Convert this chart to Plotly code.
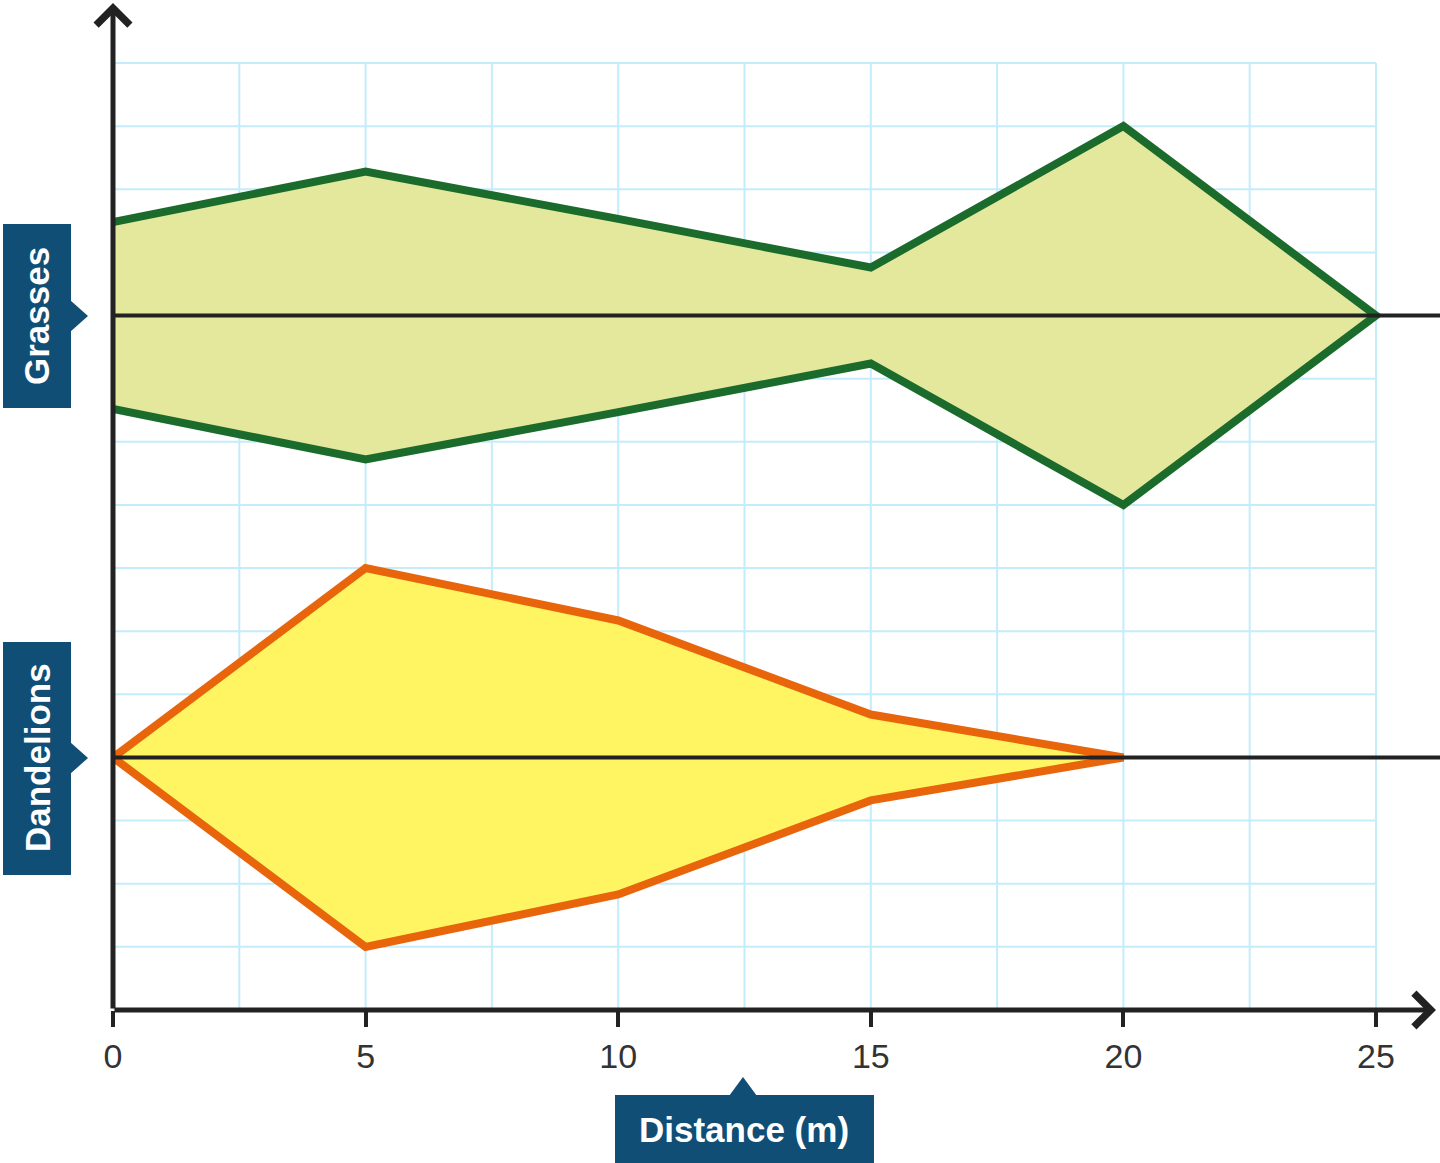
import plotly.graph_objects as go

# ---------------- data ----------------
grass_distance = [0, 5, 10, 15, 20, 25]
grasses_half_width = [1.48, 2.28, 1.53, 0.76, 3.0, 0.0]

dandelion_distance = [0, 5, 10, 15, 20]
dandelions_half_width = [0.0, 3.0, 2.17, 0.68, 0.0]

tick_vals = [0, 5, 10, 15, 20, 25]
tick_text = ["0", "5", "10", "15", "20", "25"]

species_labels = ["Grasses", "Dandelions"]
x_title = "Distance (m)"

# ---------------- layout constants ----------------
W, H = 1440, 1163
ML, MR, MT, MB = 113, 0, 0, 153
PW, PH = W - ML - MR, H - MT - MB
X_PER_PX = 25 / (1376 - 113)
Y_PER_PX = 15 / (1010 - 63)
X_MAX = PW * X_PER_PX
Y_MAX = PH * Y_PER_PX

GRASS_BASE = 11
DANDELION_BASE = 4
GRID_TOP = 15
GRID_RIGHT = 25

FONT = "Liberation Sans, Arial, Helvetica, sans-serif"
AXIS_COL = "#222222"
GRID_COL = "#c4ecfa"
BOX_COL = "#114e76"


def pxx(px):
    return (px - ML) / PW


def pxy(py):
    return (MT + PH - py) / PH


def kite(xs, halves, base):
    top = [base + h for h in halves]
    bot = [base - h for h in halves]
    return list(xs) + list(xs[::-1]), top + bot[::-1]


fig = go.Figure()

gx, gy = kite(grass_distance, grasses_half_width, GRASS_BASE)
fig.add_trace(go.Scatter(x=gx, y=gy, mode="lines", fill="toself",
                         fillcolor="#e3e89c",
                         line=dict(color="#1b6b2c", width=8),
                         hoverinfo="skip", showlegend=False))

dx, dy = kite(dandelion_distance, dandelions_half_width, DANDELION_BASE)
fig.add_trace(go.Scatter(x=dx, y=dy, mode="lines", fill="toself",
                         fillcolor="#fff462",
                         line=dict(color="#e8650c", width=8),
                         hoverinfo="skip", showlegend=False))

shapes = []
# grid
v = 0.0
while v <= GRID_RIGHT + 1e-9:
    shapes.append(dict(type="line", xref="x", yref="y", x0=v, x1=v, y0=0, y1=GRID_TOP,
                       line=dict(color=GRID_COL, width=2), layer="below"))
    v += 2.5
for h in range(0, GRID_TOP + 1):
    shapes.append(dict(type="line", xref="x", yref="y", x0=0, x1=GRID_RIGHT, y0=h, y1=h,
                       line=dict(color=GRID_COL, width=2), layer="below"))

# centre lines
for base in (GRASS_BASE, DANDELION_BASE):
    shapes.append(dict(type="line", xref="paper", yref="y", x0=0, x1=1, y0=base, y1=base,
                       line=dict(color=AXIS_COL, width=4), layer="above"))


def rect(x0, y0, x1, y1):
    return dict(type="rect", xref="paper", yref="paper",
                x0=pxx(x0), x1=pxx(x1), y0=pxy(y1), y1=pxy(y0),
                fillcolor=BOX_COL, line=dict(width=0), layer="above")


def tri(pts):
    p = "M " + " L ".join(f"{pxx(a)},{pxy(b)}" for a, b in pts) + " Z"
    return dict(type="path", xref="paper", yref="paper", path=p,
                fillcolor=BOX_COL, line=dict(width=0), layer="above")


# label boxes
shapes.append(rect(3, 224, 71, 408))
shapes.append(tri([(70, 300), (88, 316), (70, 332)]))
shapes.append(rect(3, 642, 71, 875))
shapes.append(tri([(70, 742), (88, 758), (70, 774)]))
shapes.append(rect(615, 1095, 874, 1170))
shapes.append(tri([(729, 1096), (743, 1077), (757, 1096)]))

annotations = [
    # axes with arrows
    dict(x=(1436 - ML) * X_PER_PX, y=0, ax=0, ay=0, xref="x", yref="y", axref="x", ayref="y",
         text="", showarrow=True, arrowhead=4, arrowsize=1.3, arrowwidth=5, arrowcolor=AXIS_COL),
    dict(x=0, y=(1010 - 3) * Y_PER_PX, ax=0, ay=0, xref="x", yref="y", axref="x", ayref="y",
         text="", showarrow=True, arrowhead=4, arrowsize=1.3, arrowwidth=5, arrowcolor=AXIS_COL),
    # labels
    dict(x=pxx(37), y=pxy(316), xref="paper", yref="paper", text=f"<b>{species_labels[0]}</b>",
         textangle=-90, showarrow=False, xanchor="center", yanchor="middle",
         font=dict(family=FONT, size=35, color="white")),
    dict(x=pxx(37), y=pxy(758), xref="paper", yref="paper", text=f"<b>{species_labels[1]}</b>",
         textangle=-90, showarrow=False, xanchor="center", yanchor="middle",
         font=dict(family=FONT, size=35, color="white")),
    dict(x=pxx(744), y=pxy(1129), xref="paper", yref="paper", text=f"<b>{x_title}</b>",
         showarrow=False, xanchor="center", yanchor="middle",
         font=dict(family=FONT, size=35, color="white")),
]

fig.update_layout(
    width=W, height=H,
    margin=dict(l=ML, r=MR, t=MT, b=MB, pad=0),
    paper_bgcolor="white", plot_bgcolor="white",
    showlegend=False,
    shapes=shapes, annotations=annotations,
    xaxis=dict(range=[0, X_MAX], showgrid=False, zeroline=False, showline=False,
               tickmode="array", tickvals=tick_vals, ticktext=tick_text,
               ticks="outside", ticklen=16, tickwidth=4, tickcolor=AXIS_COL,
               tickfont=dict(family=FONT, size=34, color="#333333"), fixedrange=True),
    yaxis=dict(range=[0, Y_MAX], showgrid=False, zeroline=False, showline=False,
               showticklabels=False, ticks="", fixedrange=True),
)

fig.write_html("out.html", config={"displayModeBar": False},
               post_script="document.body.style.margin='0';")
